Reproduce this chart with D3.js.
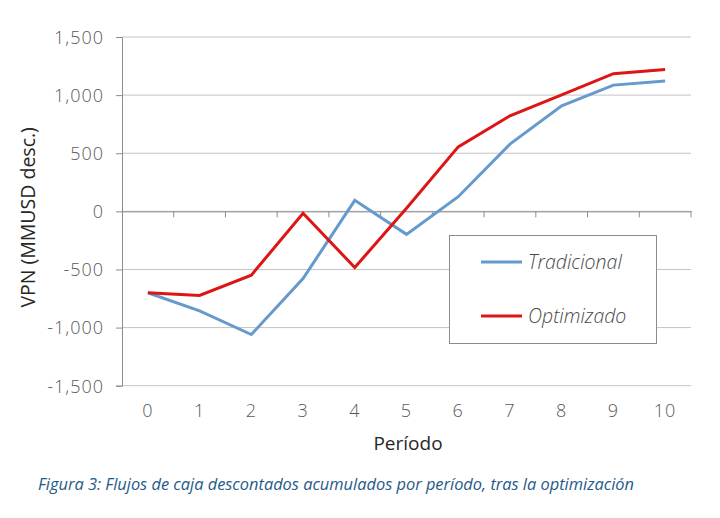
<!DOCTYPE html>
<html>
<head>
<meta charset="utf-8">
<script src="https://cdn.jsdelivr.net/npm/d3@7"></script>
<style>
  body { margin: 0; background: #fff; }
  text { font-family: "Open Sans", "Noto Sans", sans-serif; }
</style>
</head>
<body>
<div id="chart"></div>
<script>
const periods = [0, 1, 2, 3, 4, 5, 6, 7, 8, 9, 10];
const tradicional = [-700, -856, -1060, -578, 95, -198, 126, 578, 908, 1086, 1121];
const optimizado = [-700, -724, -549, -17, -483, 26, 555, 822, 1003, 1184, 1221];
const yTicks = [-1500, -1000, -500, 0, 500, 1000, 1500];
const seriesNames = ["Tradicional", "Optimizado"];
const seriesColors = ["#6699cc", "#dd1515"];

const width = 720, height = 518;
const margin = { top: 37, right: 29, bottom: 132, left: 122 };

const svg = d3.select('#chart').append('svg')
    .attr('width', width)
    .attr('height', height);

const x = d3.scaleBand()
    .domain(periods)
    .range([margin.left, width - margin.right]);

const y = d3.scaleLinear()
    .domain([-1500, 1500])
    .range([height - margin.bottom - 0.3, margin.top]);

// hyphen instead of unicode minus, like the original
const fmt = d => d3.format(',')(d).replace('\u2212', '-');

// gridlines
svg.append('g')
    .selectAll('line')
    .data(yTicks)
    .enter().append('line')
    .attr('x1', margin.left)
    .attr('x2', width - margin.right)
    .attr('y1', d => y(d))
    .attr('y2', d => y(d))
    .attr('stroke', '#c4c4c4')
    .attr('stroke-width', 1);

// y axis
const yAxis = svg.append('g')
    .attr('transform', `translate(${margin.left},0)`)
    .call(d3.axisLeft(y).tickValues(yTicks).tickSize(6).tickPadding(12)
        .tickFormat(fmt));
yAxis.select('.domain').attr('stroke', '#8c8c8c');
yAxis.selectAll('.tick line').attr('stroke', '#8c8c8c');
yAxis.selectAll('.tick text')
    .attr('fill', '#595959')
    .style('font-size', '18px')
    .style('font-weight', 300)
    .style('letter-spacing', '1px')
    .attr('dy', '0.35em');

// x axis drawn on the zero line, labels at bottom
const xAxisLine = svg.append('g')
    .attr('transform', `translate(0,${y(0)})`)
    .call(d3.axisBottom(x).tickSize(0).tickFormat(''));
xAxisLine.select('.domain').attr('stroke', '#8c8c8c');
// band boundary tick marks
svg.append('g')
    .selectAll('line')
    .data(periods.slice(1).concat(['end']))
    .enter().append('line')
    .attr('x1', d => d === 'end' ? x.range()[1] : x(d))
    .attr('x2', d => d === 'end' ? x.range()[1] : x(d))
    .attr('y1', y(0))
    .attr('y2', y(0) + 6)
    .attr('stroke', '#8c8c8c');

svg.append('g')
    .selectAll('text')
    .data(periods)
    .enter().append('text')
    .attr('x', d => x(d) + x.bandwidth() / 2)
    .attr('y', 417)
    .attr('text-anchor', 'middle')
    .attr('fill', '#595959')
    .style('font-size', '18px')
    .style('font-weight', 300)
    .style('letter-spacing', '1px')
    .text(d => d);

// axis titles
svg.append('text')
    .attr('transform', `translate(35,${(y(1500) + y(-1500)) / 2 + 6}) rotate(-90)`)
    .attr('text-anchor', 'middle')
    .attr('fill', '#262626')
    .style('font-size', '19.5px')
    .text('VPN (MMUSD desc.)');

svg.append('text')
    .attr('x', 408)
    .attr('y', 450)
    .attr('text-anchor', 'middle')
    .attr('fill', '#262626')
    .style('font-size', '19px')
    .text('Período');

// lines
const line = d3.line()
    .x((d, i) => x(periods[i]) + x.bandwidth() / 2)
    .y(d => y(d));

[tradicional, optimizado].forEach((vals, i) => {
    svg.append('path')
        .datum(vals)
        .attr('fill', 'none')
        .attr('stroke', seriesColors[i])
        .attr('stroke-width', 3)
        .attr('stroke-linejoin', 'miter')
        .attr('d', line);
});

// legend
const legend = svg.append('g');
legend.append('rect')
    .attr('x', 449.5)
    .attr('y', 235.5)
    .attr('width', 207)
    .attr('height', 108)
    .attr('fill', '#fff')
    .attr('stroke', '#8c8c8c');

const legendY = [262, 316];
seriesNames.forEach((name, i) => {
    legend.append('line')
        .attr('x1', 481).attr('x2', 522)
        .attr('y1', legendY[i]).attr('y2', legendY[i])
        .attr('stroke', seriesColors[i])
        .attr('stroke-width', 3);
    legend.append('text')
        .attr('x', 528)
        .attr('y', legendY[i] + 7)
        .attr('fill', '#4a4a4a')
        .style('font-size', '19.5px')
        .style('font-style', 'italic')
        .style('font-weight', 300)
        .text(name);
});

// caption
svg.append('text')
    .attr('x', 38)
    .attr('y', 490)
    .attr('fill', '#1f5a8a')
    .style('font-size', '16.4px')
    .style('font-style', 'italic')
    .text('Figura 3: Flujos de caja descontados acumulados por período, tras la optimización');
</script>
</body>
</html>
